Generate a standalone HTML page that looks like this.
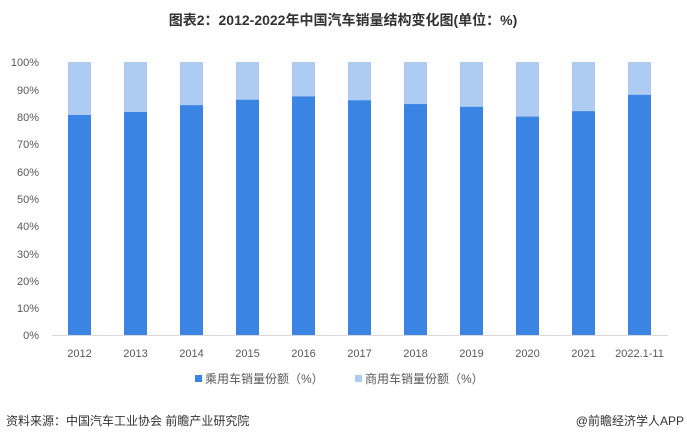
<!DOCTYPE html>
<html><head><meta charset="utf-8"><style>
body{margin:0;background:#fff;width:687px;height:442px;overflow:hidden;font-family:"Liberation Sans","Noto Sans CJK SC",sans-serif;}
</style></head><body>
<svg width="687" height="442" xmlns="http://www.w3.org/2000/svg" font-family="Liberation Sans, Noto Sans CJK SC, sans-serif">
<text x="343" y="25" text-anchor="middle" font-size="14" font-weight="bold" fill="#333">图表2：2012-2022年中国汽车销量结构变化图(单位：%)</text>
<g font-size="11" fill="#595959" text-anchor="end">
<text x="39" y="66">100%</text><text x="39" y="94">90%</text><text x="39" y="121">80%</text><text x="39" y="148">70%</text><text x="39" y="176">60%</text><text x="39" y="203">50%</text><text x="39" y="230">40%</text><text x="39" y="258">30%</text><text x="39" y="285">20%</text><text x="39" y="312">10%</text><text x="39" y="339">0%</text>
</g>
<line x1="52" y1="335.5" x2="668" y2="335.5" stroke="#d9d9d9"/>
<g id="bars"></g>
<g font-size="11" fill="#595959" text-anchor="middle" id="labels"></g>
<rect x="195" y="375" width="7" height="7" fill="#3a84e3"/>
<text x="205" y="383" font-size="12" fill="#595959">乘用车销量份额（%）</text>
<rect x="355" y="375" width="7" height="7" fill="#aecbf2"/>
<text x="365" y="383" font-size="12" fill="#595959">商用车销量份额（%）</text>
<text x="6" y="425" font-size="12" fill="#333">资料来源：中国汽车工业协会 前瞻产业研究院</text>
<text x="684" y="425" font-size="12" fill="#333" text-anchor="end">@前瞻经济学人APP</text>
</svg>
<script>
var v=[80.6,81.7,84.2,86.2,87.4,86,84.6,83.6,80,82,88];
var l=["2012","2013","2014","2015","2016","2017","2018","2019","2020","2021","2022.1-11"];
var b=document.getElementById("bars"),t=document.getElementById("labels"),ns="http://www.w3.org/2000/svg",s="";
for(var i=0;i<11;i++){var c=79.5+56*i,y=335-v[i]*2.73;
s+='<rect x="'+(c-11.5)+'" y="62" width="23" height="'+(y-62)+'" fill="#aecbf2"/><rect x="'+(c-11.5)+'" y="'+y+'" width="23" height="'+(335-y)+'" fill="#3a84e3"/>';
t.innerHTML+='<text x="'+c+'" y="357">'+l[i]+'</text>';}
b.innerHTML=s;
</script>
</body></html>
